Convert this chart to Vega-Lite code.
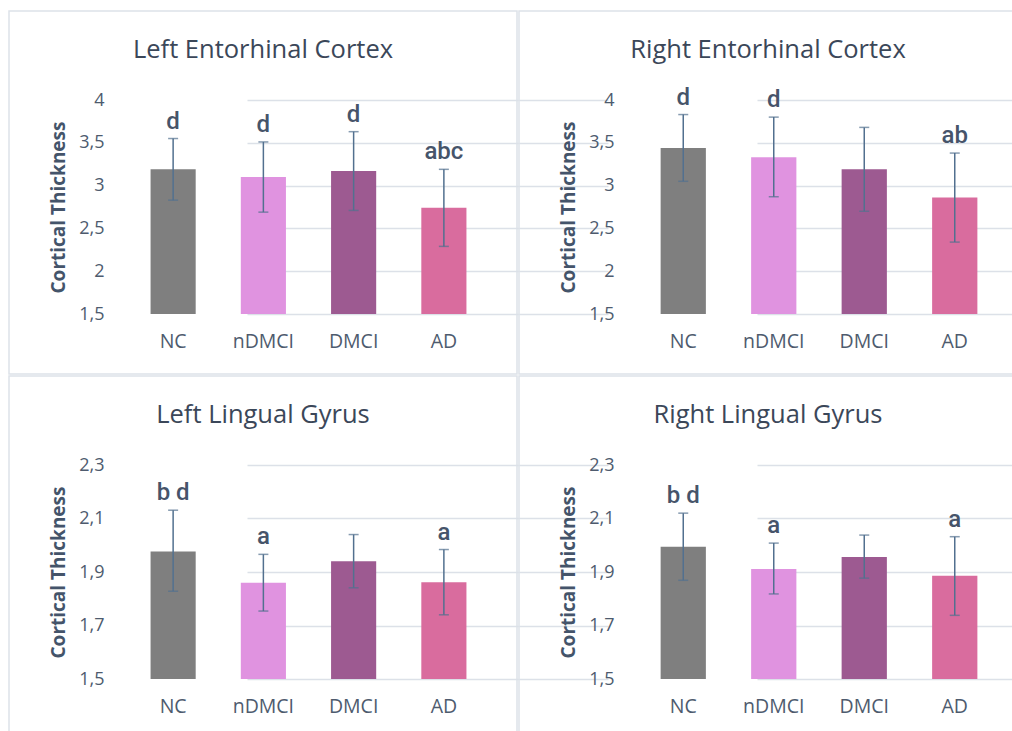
{
  "$schema": "https://vega.github.io/schema/vega-lite/v6.json",
  "padding": {"left": 8, "top": 10, "right": -2, "bottom": -2},
  "spacing": 0,
  "background": "white",
  "config": {
    "view": {"stroke": "#DDE2E9", "strokeWidth": 1.5},
    "font": "Open Sans",
    "concat": {"spacing": 0},
    "title": {"font": "Open Sans", "fontSize": 25.5, "fontWeight": "normal", "color": "#3B4759", "offset": -52, "anchor": "middle"},
    "axisX": {"domain": false, "ticks": false, "labelAngle": 0, "title": null, "labelPadding": 18, "labelFontSize": 19.5, "labelColor": "#4E5B6E", "labelFont": "Open Sans", "grid": false},
    "axisY": {"domain": false, "ticks": false, "grid": true, "gridColor": "#DCE1E8", "gridWidth": 1.5, "labelPadding": 24, "labelFontSize": 18, "labelColor": "#4E5B6E", "labelFont": "Open Sans", "titleFont": "Open Sans", "titleFontSize": 19, "titleFontWeight": "bold", "titleColor": "#44546A", "titlePadding": 10, "offset": -119, "format": "~g", "labelExpr": "replace(datum.label, '.', ',')"}
  },
  "datasets": {
    "lec": [
      {"group": "NC", "mean": 3.19, "lo": 2.83, "hi": 3.55, "letter": "d"},
      {"group": "nDMCI", "mean": 3.10, "lo": 2.69, "hi": 3.51, "letter": "d"},
      {"group": "DMCI", "mean": 3.17, "lo": 2.71, "hi": 3.63, "letter": "d"},
      {"group": "AD", "mean": 2.74, "lo": 2.29, "hi": 3.19, "letter": "abc"}
    ],
    "rec": [
      {"group": "NC", "mean": 3.44, "lo": 3.05, "hi": 3.83, "letter": "d"},
      {"group": "nDMCI", "mean": 3.33, "lo": 2.87, "hi": 3.80, "letter": "d"},
      {"group": "DMCI", "mean": 3.19, "lo": 2.70, "hi": 3.68, "letter": ""},
      {"group": "AD", "mean": 2.86, "lo": 2.34, "hi": 3.38, "letter": "ab"}
    ],
    "llg": [
      {"group": "NC", "mean": 1.977, "lo": 1.828, "hi": 2.131, "letter": "b d"},
      {"group": "nDMCI", "mean": 1.860, "lo": 1.754, "hi": 1.966, "letter": "a"},
      {"group": "DMCI", "mean": 1.940, "lo": 1.841, "hi": 2.040, "letter": ""},
      {"group": "AD", "mean": 1.862, "lo": 1.740, "hi": 1.984, "letter": "a"}
    ],
    "rlg": [
      {"group": "NC", "mean": 1.994, "lo": 1.869, "hi": 2.120, "letter": "b d"},
      {"group": "nDMCI", "mean": 1.911, "lo": 1.818, "hi": 2.008, "letter": "a"},
      {"group": "DMCI", "mean": 1.956, "lo": 1.877, "hi": 2.038, "letter": ""},
      {"group": "AD", "mean": 1.886, "lo": 1.738, "hi": 2.032, "letter": "a"}
    ]
  },
  "vconcat": [
    {"hconcat": [
      {
        "width": 508, "height": 363,
        "data": {"name": "lec"},
        "title": {"text": "Left Entorhinal Cortex"},
        "encoding": {"x": {"field": "group", "type": "nominal", "sort": ["NC", "nDMCI", "DMCI", "AD"], "scale": {"range": [119, 480], "paddingInner": 0.5, "paddingOuter": 0.25}, "axis": {"offset": -60}}},
        "layer": [
          {"mark": {"type": "bar"}, "encoding": {
            "y": {"field": "mean", "type": "quantitative", "title": "Cortical Thickness", "scale": {"domain": [1.5, 4], "range": [303, 89], "nice": false, "zero": false}, "axis": {"values": [1.5, 2, 2.5, 3, 3.5, 4]}},
            "y2": {"datum": 1.5},
            "color": {"field": "group", "type": "nominal", "legend": null, "scale": {"domain": ["NC", "nDMCI", "DMCI", "AD"], "range": ["#7F7F7F", "#E093E0", "#9D5A91", "#D96C9E"]}}}},
          {"mark": {"type": "rule", "color": "#52708F", "strokeWidth": 1.5}, "encoding": {"y": {"field": "lo", "type": "quantitative", "title": "Cortical Thickness"}, "y2": {"field": "hi"}}},
          {"mark": {"type": "tick", "color": "#52708F", "size": 10, "thickness": 1.5}, "encoding": {"y": {"field": "lo", "type": "quantitative", "title": "Cortical Thickness"}}},
          {"mark": {"type": "tick", "color": "#52708F", "size": 10, "thickness": 1.5}, "encoding": {"y": {"field": "hi", "type": "quantitative", "title": "Cortical Thickness"}}},
          {"mark": {"type": "text", "dy": -5, "baseline": "bottom", "font": "Roboto", "fontWeight": 500, "fontSize": 24, "color": "#46546A"}, "encoding": {"y": {"field": "hi", "type": "quantitative", "title": "Cortical Thickness"}, "text": {"field": "letter"}}}
        ]
      },
      {
        "width": 498, "height": 363,
        "data": {"name": "rec"},
        "title": {"text": "Right Entorhinal Cortex"},
        "encoding": {"x": {"field": "group", "type": "nominal", "sort": ["NC", "nDMCI", "DMCI", "AD"], "scale": {"range": [119, 481], "paddingInner": 0.5, "paddingOuter": 0.25}, "axis": {"offset": -60}}},
        "layer": [
          {"mark": {"type": "bar"}, "encoding": {
            "y": {"field": "mean", "type": "quantitative", "title": "Cortical Thickness", "scale": {"domain": [1.5, 4], "range": [303, 89], "nice": false, "zero": false}, "axis": {"values": [1.5, 2, 2.5, 3, 3.5, 4]}},
            "y2": {"datum": 1.5},
            "color": {"field": "group", "type": "nominal", "legend": null, "scale": {"domain": ["NC", "nDMCI", "DMCI", "AD"], "range": ["#7F7F7F", "#E093E0", "#9D5A91", "#D96C9E"]}}}},
          {"mark": {"type": "rule", "color": "#52708F", "strokeWidth": 1.5}, "encoding": {"y": {"field": "lo", "type": "quantitative", "title": "Cortical Thickness"}, "y2": {"field": "hi"}}},
          {"mark": {"type": "tick", "color": "#52708F", "size": 10, "thickness": 1.5}, "encoding": {"y": {"field": "lo", "type": "quantitative", "title": "Cortical Thickness"}}},
          {"mark": {"type": "tick", "color": "#52708F", "size": 10, "thickness": 1.5}, "encoding": {"y": {"field": "hi", "type": "quantitative", "title": "Cortical Thickness"}}},
          {"mark": {"type": "text", "dy": -5, "baseline": "bottom", "font": "Roboto", "fontWeight": 500, "fontSize": 24, "color": "#46546A"}, "encoding": {"y": {"field": "hi", "type": "quantitative", "title": "Cortical Thickness"}, "text": {"field": "letter"}}}
        ]
      }
    ]},
    {"hconcat": [
      {
        "width": 508, "height": 360,
        "data": {"name": "llg"},
        "title": {"text": "Left Lingual Gyrus"},
        "encoding": {"x": {"field": "group", "type": "nominal", "sort": ["NC", "nDMCI", "DMCI", "AD"], "scale": {"range": [119, 480], "paddingInner": 0.5, "paddingOuter": 0.25}, "axis": {"offset": -57}}},
        "layer": [
          {"mark": {"type": "bar"}, "encoding": {
            "y": {"field": "mean", "type": "quantitative", "title": "Cortical Thickness", "scale": {"domain": [1.5, 2.3], "range": [303, 89], "nice": false, "zero": false}, "axis": {"values": [1.5, 1.7, 1.9, 2.1, 2.3]}},
            "y2": {"datum": 1.5},
            "color": {"field": "group", "type": "nominal", "legend": null, "scale": {"domain": ["NC", "nDMCI", "DMCI", "AD"], "range": ["#7F7F7F", "#E093E0", "#9D5A91", "#D96C9E"]}}}},
          {"mark": {"type": "rule", "color": "#52708F", "strokeWidth": 1.5}, "encoding": {"y": {"field": "lo", "type": "quantitative", "title": "Cortical Thickness"}, "y2": {"field": "hi"}}},
          {"mark": {"type": "tick", "color": "#52708F", "size": 10, "thickness": 1.5}, "encoding": {"y": {"field": "lo", "type": "quantitative", "title": "Cortical Thickness"}}},
          {"mark": {"type": "tick", "color": "#52708F", "size": 10, "thickness": 1.5}, "encoding": {"y": {"field": "hi", "type": "quantitative", "title": "Cortical Thickness"}}},
          {"mark": {"type": "text", "dy": -5, "baseline": "bottom", "font": "Roboto", "fontWeight": 500, "fontSize": 24, "color": "#46546A"}, "encoding": {"y": {"field": "hi", "type": "quantitative", "title": "Cortical Thickness"}, "text": {"field": "letter"}}}
        ]
      },
      {
        "width": 498, "height": 360,
        "data": {"name": "rlg"},
        "title": {"text": "Right Lingual Gyrus"},
        "encoding": {"x": {"field": "group", "type": "nominal", "sort": ["NC", "nDMCI", "DMCI", "AD"], "scale": {"range": [119, 481], "paddingInner": 0.5, "paddingOuter": 0.25}, "axis": {"offset": -57}}},
        "layer": [
          {"mark": {"type": "bar"}, "encoding": {
            "y": {"field": "mean", "type": "quantitative", "title": "Cortical Thickness", "scale": {"domain": [1.5, 2.3], "range": [303, 89], "nice": false, "zero": false}, "axis": {"values": [1.5, 1.7, 1.9, 2.1, 2.3]}},
            "y2": {"datum": 1.5},
            "color": {"field": "group", "type": "nominal", "legend": null, "scale": {"domain": ["NC", "nDMCI", "DMCI", "AD"], "range": ["#7F7F7F", "#E093E0", "#9D5A91", "#D96C9E"]}}}},
          {"mark": {"type": "rule", "color": "#52708F", "strokeWidth": 1.5}, "encoding": {"y": {"field": "lo", "type": "quantitative", "title": "Cortical Thickness"}, "y2": {"field": "hi"}}},
          {"mark": {"type": "tick", "color": "#52708F", "size": 10, "thickness": 1.5}, "encoding": {"y": {"field": "lo", "type": "quantitative", "title": "Cortical Thickness"}}},
          {"mark": {"type": "tick", "color": "#52708F", "size": 10, "thickness": 1.5}, "encoding": {"y": {"field": "hi", "type": "quantitative", "title": "Cortical Thickness"}}},
          {"mark": {"type": "text", "dy": -5, "baseline": "bottom", "font": "Roboto", "fontWeight": 500, "fontSize": 24, "color": "#46546A"}, "encoding": {"y": {"field": "hi", "type": "quantitative", "title": "Cortical Thickness"}, "text": {"field": "letter"}}}
        ]
      }
    ]}
  ]
}
